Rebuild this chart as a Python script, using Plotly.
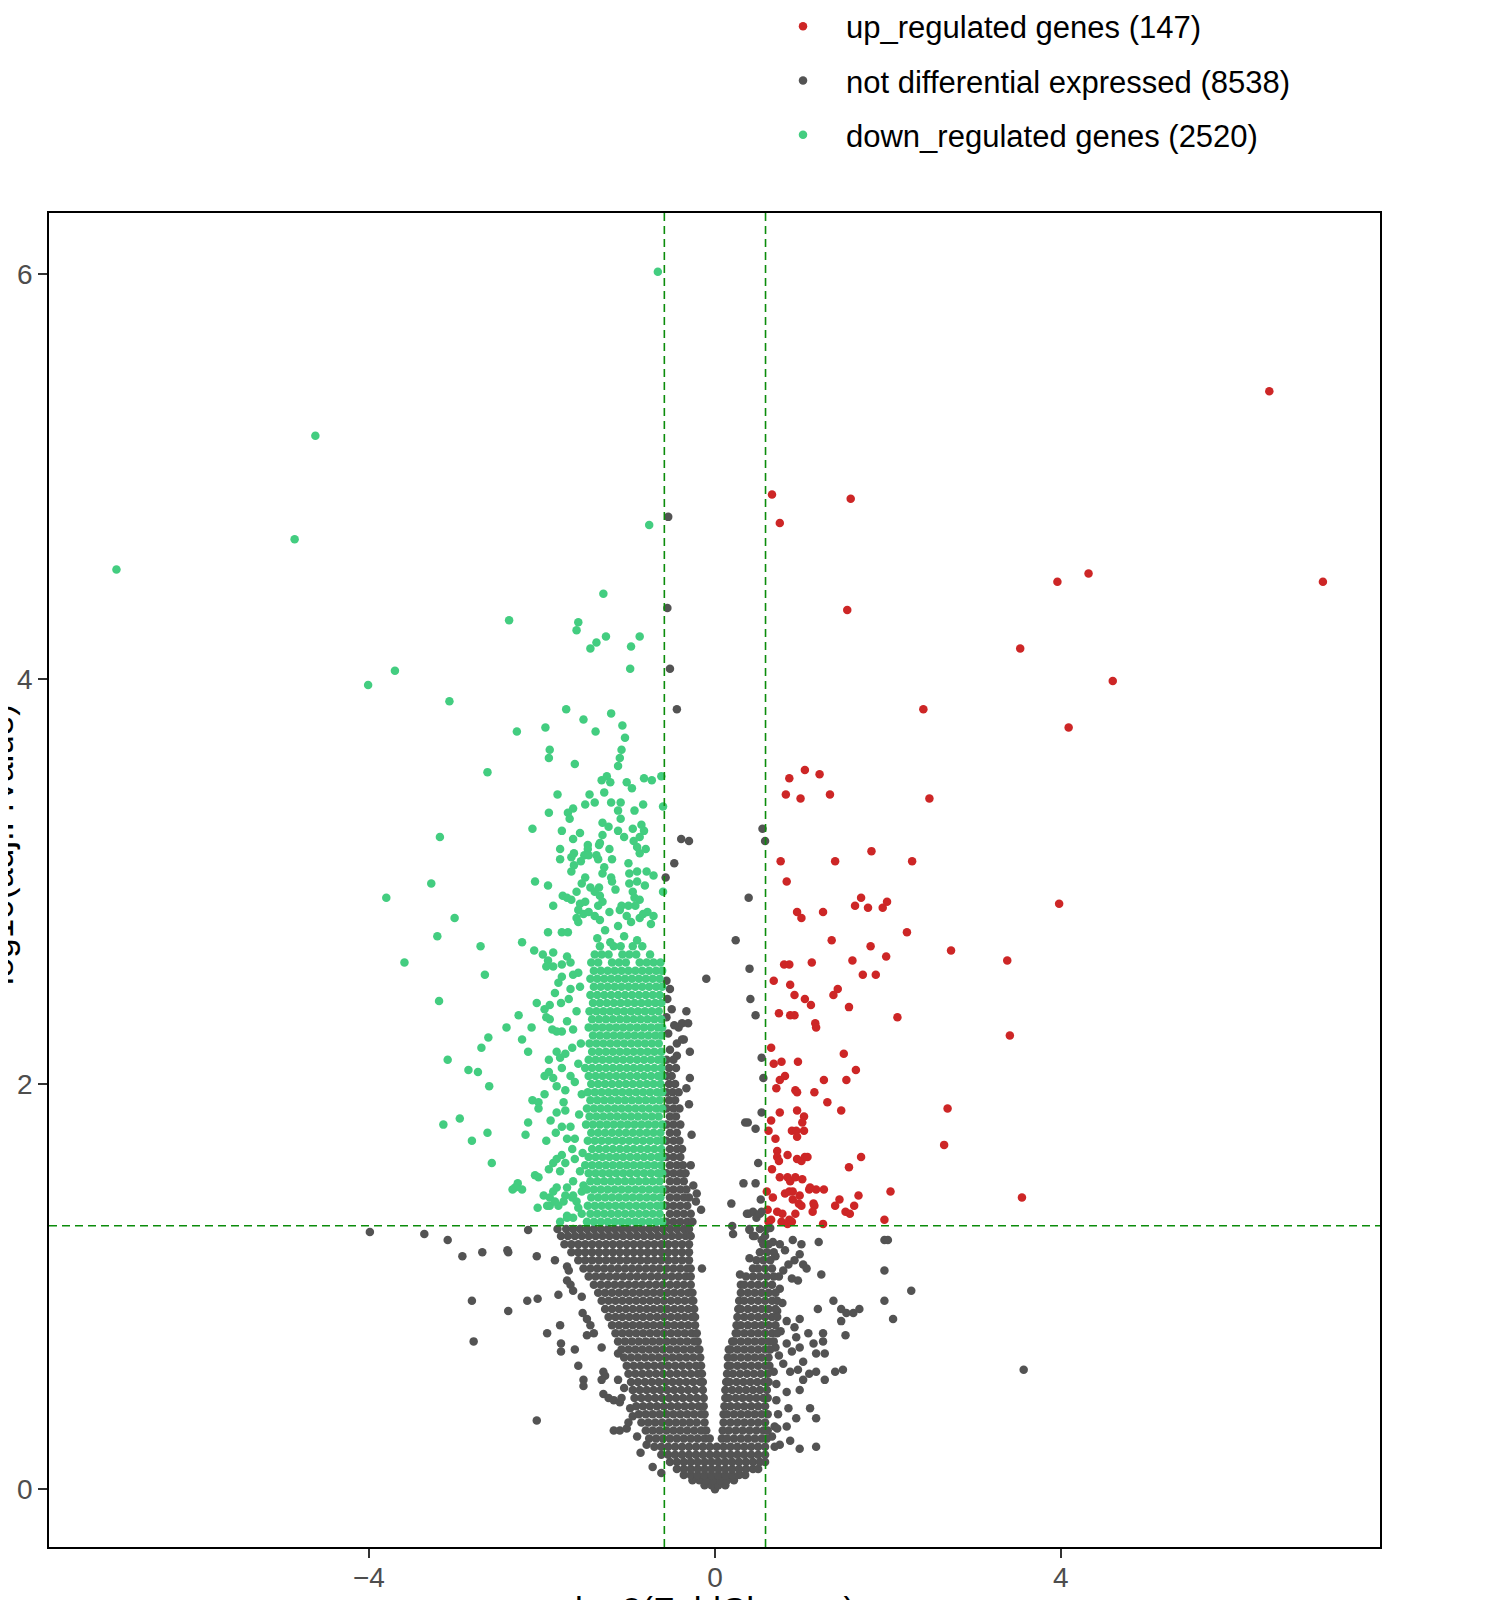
import plotly.graph_objects as go

# group sizes shown in the legend
up_count = 147
ns_count = 8538
down_count = 2520

fc_cut = 0.585    # log2(1.5)
p_cut = 1.301     # -log10(0.05)

# ---- up regulated (red), read point by point ----
up_points = [
    (6.41, 5.42), (7.03, 4.48), (4.32, 4.52), (3.96, 4.48), (4.60, 3.99), (3.53, 4.15),
    (4.09, 3.76), (2.41, 3.85), (3.98, 2.89), (3.38, 2.61), (3.41, 2.24), (3.55, 1.44),
    (0.66, 4.91), (0.75, 4.77), (1.57, 4.89), (1.53, 4.34),
    (1.04, 3.55), (0.86, 3.51), (1.21, 3.53), (0.82, 3.43), (0.99, 3.41), (1.33, 3.43),
    (2.48, 3.41), (1.81, 3.15), (0.76, 3.10), (1.39, 3.10), (2.28, 3.10), (0.83, 3.00),
    (1.69, 2.92), (1.62, 2.88), (1.77, 2.87), (1.94, 2.87), (1.99, 2.90), (0.95, 2.85),
    (1.00, 2.82), (1.25, 2.85), (2.22, 2.75), (1.35, 2.71), (1.80, 2.68), (2.73, 2.66),
    (1.98, 2.63), (1.59, 2.61), (0.80, 2.59), (0.86, 2.59), (1.12, 2.60), (1.71, 2.54),
    (1.86, 2.54), (0.68, 2.51), (0.87, 2.49), (1.42, 2.47), (1.37, 2.44), (0.92, 2.44),
    (1.04, 2.42), (1.11, 2.39), (1.55, 2.38), (0.74, 2.35), (0.87, 2.34), (0.92, 2.34),
    (1.16, 2.30), (1.17, 2.28), (2.11, 2.33),
    (0.65, 2.18), (0.77, 2.11), (0.68, 2.10), (0.96, 2.11), (1.49, 2.15), (1.63, 2.07),
    (0.81, 2.04), (0.75, 2.02), (0.71, 1.98), (0.93, 1.97), (0.95, 1.96), (1.15, 1.96),
    (1.26, 2.02), (1.52, 2.02), (1.30, 1.91), (1.46, 1.87), (0.75, 1.86), (0.95, 1.87),
    (1.03, 1.84), (1.01, 1.81), (1.03, 1.77), (0.65, 1.82), (0.62, 1.77), (0.89, 1.77),
    (0.94, 1.77), (0.70, 1.73), (0.95, 1.74), (0.72, 1.67), (0.72, 1.64), (0.74, 1.62),
    (0.84, 1.65), (0.95, 1.63), (1.00, 1.62), (1.04, 1.64), (1.07, 1.64), (1.69, 1.64),
    (1.55, 1.59), (0.66, 1.58), (0.75, 1.54), (0.84, 1.54), (0.87, 1.52), (0.93, 1.54),
    (1.01, 1.53), (0.60, 1.47), (0.67, 1.44), (0.81, 1.46), (0.86, 1.47), (0.90, 1.47),
    (0.98, 1.45), (1.09, 1.48), (1.17, 1.48), (1.26, 1.48), (1.66, 1.45), (2.03, 1.47),
    (2.69, 1.88), (2.65, 1.70), (0.61, 1.38), (0.72, 1.37), (0.78, 1.36), (0.90, 1.43),
    (0.97, 1.41), (1.00, 1.40), (1.14, 1.41), (1.15, 1.40), (1.13, 1.37), (1.39, 1.40),
    (1.44, 1.43), (1.51, 1.37), (1.56, 1.36), (1.61, 1.40), (0.93, 1.36), (0.86, 1.33),
    (0.65, 1.33), (1.96, 1.33), (0.62, 1.32), (0.77, 1.32), (0.84, 1.31), (0.89, 1.32),
    (1.25, 1.31), (1.10, 1.49),
]

# ---- down regulated (green), scattered points ----
down_points = [
    (-4.62, 5.20), (-4.86, 4.69), (-6.92, 4.54), (-2.38, 4.29), (-3.70, 4.04), (-4.01, 3.97),
    (-3.07, 3.89), (-1.96, 3.76), (-2.29, 3.74), (-1.91, 3.65), (-1.92, 3.61), (-2.63, 3.54),
    (-1.82, 3.43), (-0.66, 6.01), (-0.76, 4.76),
    (-1.29, 4.42), (-1.58, 4.28), (-1.60, 4.24), (-1.26, 4.21), (-1.37, 4.18), (-1.44, 4.15),
    (-0.87, 4.21), (-0.97, 4.16), (-0.98, 4.05), (-1.72, 3.85), (-1.52, 3.80), (-1.20, 3.83),
    (-1.38, 3.74), (-1.07, 3.77), (-1.04, 3.71), (-1.08, 3.65), (-1.10, 3.61), (-1.12, 3.57),
    (-1.62, 3.58), (-1.31, 3.50), (-1.25, 3.52), (-1.21, 3.49), (-1.02, 3.49), (-0.96, 3.46),
    (-0.82, 3.51), (-0.73, 3.50), (-0.62, 3.52), (-1.45, 3.43), (-1.28, 3.44), (-1.50, 3.38),
    (-1.39, 3.39), (-1.20, 3.39), (-1.09, 3.39), (-1.64, 3.36), (-1.70, 3.34), (-1.68, 3.31),
    (-1.92, 3.34), (-1.12, 3.35), (-1.09, 3.31), (-0.93, 3.35), (-0.83, 3.38), (-0.60, 3.37),
    (-2.11, 3.26), (-1.77, 3.25), (-1.30, 3.29), (-1.23, 3.27), (-1.12, 3.25), (-1.05, 3.22),
    (-0.95, 3.26), (-0.85, 3.28), (-0.82, 3.25), (-0.87, 3.22), (-1.64, 3.21), (-1.56, 3.24),
    (-1.30, 3.23), (-1.47, 3.18), (-1.47, 3.16), (-1.34, 3.18), (-1.33, 3.19),
    (-1.79, 3.16), (-1.79, 3.11), (-1.63, 3.14), (-1.66, 3.12), (-1.51, 3.13), (-1.46, 3.13),
    (-1.37, 3.13), (-1.22, 3.16), (-1.19, 3.11), (-0.94, 3.20), (-0.90, 3.17), (-0.87, 3.14),
    (-0.80, 3.16), (-1.55, 3.10), (-1.63, 3.08), (-1.66, 3.05), (-1.35, 3.11), (-1.28, 3.07),
    (-1.30, 3.04), (-1.00, 3.09), (-0.99, 3.04), (-0.90, 3.05), (-0.79, 3.05), (-0.71, 3.03),
    (-2.08, 3.00), (-1.93, 2.98), (-1.50, 3.02), (-1.54, 2.99), (-1.20, 3.02), (-1.19, 3.00),
    (-1.44, 2.97), (-1.34, 2.97), (-1.39, 2.95), (-0.99, 2.99), (-0.90, 3.00), (-0.81, 2.98),
    (-0.60, 2.95), (-1.15, 2.96), (-1.60, 2.95), (-1.76, 2.93), (-1.66, 2.91), (-1.71, 2.92),
    (-1.87, 2.88), (-1.56, 2.89), (-1.58, 2.86), (-1.50, 2.90), (-1.33, 2.93), (-1.30, 2.90),
    (-1.35, 2.88), (-0.95, 2.95), (-0.93, 2.92), (-0.87, 2.91), (-0.92, 2.88), (-1.08, 2.88),
    (-1.00, 2.88), (-0.78, 2.85), (-0.71, 2.83), (-0.74, 2.79), (-1.22, 2.85), (-1.10, 2.86),
    (-1.60, 2.82), (-1.58, 2.80), (-1.52, 2.84), (-1.46, 2.85), (-1.39, 2.83), (-1.33, 2.81),
    (-1.02, 2.83), (-0.97, 2.80), (-0.87, 2.82), (-0.83, 2.84), (-1.93, 2.75), (-2.23, 2.70),
    (-2.09, 2.66), (-1.77, 2.75), (-1.70, 2.75), (-1.99, 2.64), (-1.87, 2.65), (-1.93, 2.61),
    (-3.18, 3.22), (-3.28, 2.99), (-3.80, 2.92), (-3.01, 2.82), (-3.21, 2.73), (-2.71, 2.68),
    (-3.59, 2.60), (-2.66, 2.54), (-3.19, 2.41), (-1.95, 2.58), (-1.87, 2.58), (-1.81, 2.50),
    (-1.85, 2.45), (-2.06, 2.40), (-1.97, 2.37), (-1.91, 2.39), (-1.95, 2.33), (-1.91, 2.32),
    (-2.27, 2.34), (-2.12, 2.28), (-2.41, 2.28), (-2.62, 2.23), (-2.70, 2.18), (-2.23, 2.22),
    (-2.16, 2.16), (-1.88, 2.27), (-1.83, 2.26), (-3.09, 2.12), (-2.85, 2.07), (-2.74, 2.06),
    (-2.61, 1.99), (-1.92, 2.12), (-1.83, 2.16), (-1.97, 2.04), (-1.92, 2.06), (-1.87, 2.03),
    (-1.83, 1.99), (-2.11, 1.92), (-2.04, 1.91), (-2.04, 1.88), (-1.97, 1.95), (-1.83, 1.86),
    (-1.90, 1.82), (-1.84, 1.76), (-3.14, 1.80), (-2.95, 1.83), (-2.81, 1.72), (-2.63, 1.76),
    (-2.58, 1.61), (-2.16, 1.81), (-2.19, 1.75), (-1.95, 1.72), (-2.08, 1.55), (-2.04, 1.54),
    (-1.92, 1.58), (-1.87, 1.61), (-1.83, 1.63), (-2.34, 1.48), (-2.28, 1.51), (-2.23, 1.48),
    (-2.05, 1.39), (-1.98, 1.45), (-1.91, 1.44), (-1.87, 1.47), (-1.91, 1.40), (-1.81, 1.40),
    (-2.31, 1.49), (-1.94, 1.40), (-1.85, 1.42), (-1.83, 1.49), (-1.73, 1.45), (-1.64, 1.45),
    (-1.54, 1.47), (-1.71, 1.35), (-1.64, 1.34), (-1.54, 1.36), (-1.79, 1.32),
    (-1.78, 2.40), (-1.69, 2.42), (-1.67, 2.47), (-1.77, 2.59), (-1.67, 2.60), (-1.71, 2.63),
    (-1.77, 2.53), (-1.64, 2.54), (-1.58, 2.55), (-1.77, 2.26), (-1.71, 2.31), (-1.64, 2.27),
    (-1.79, 2.13), (-1.73, 2.15), (-1.65, 2.18), (-1.77, 2.08), (-1.73, 1.97), (-1.67, 2.04),
    (-1.62, 2.01), (-1.75, 1.91), (-1.73, 1.87), (-1.67, 1.79), (-1.62, 1.73), (-1.71, 1.73),
    (-1.77, 1.79), (-1.77, 1.65), (-1.79, 1.57), (-1.73, 1.61), (-1.65, 1.68), (-1.62, 1.63),
    (-1.71, 1.49), (-1.64, 1.52), (-1.75, 1.42), (-1.65, 1.44), (-1.71, 1.34), (-1.58, 1.39),
    (-1.56, 2.48), (-1.60, 2.36), (-1.55, 2.20), (-1.58, 2.10), (-1.54, 1.95), (-1.57, 1.85),
    (-1.53, 1.66), (-1.56, 1.57), (-1.52, 1.50), (-1.60, 1.42),
    (-1.36, 2.72), (-1.21, 2.70), (-1.05, 2.73), (-0.90, 2.71), (-1.27, 2.76), (-1.12, 2.78),
]

# ---- down regulated, the solid block (one list of x per row) ----
down_band_y = [1.32, 1.36, 1.40, 1.44, 1.48, 1.52, 1.56, 1.60, 1.64, 1.68, 1.72, 1.76,
               1.80, 1.84, 1.88, 1.92, 1.96, 2.00, 2.04, 2.08, 2.12, 2.16, 2.20, 2.24,
               2.28, 2.32, 2.36, 2.40, 2.44, 2.48, 2.52, 2.56, 2.60, 2.64, 2.68]
down_band_x = [
    [-1.48, -1.40, -1.32, -1.24, -1.16, -1.08, -1.00, -0.92, -0.84, -0.76, -0.68, -0.61],
    [-1.44, -1.36, -1.28, -1.20, -1.12, -1.04, -0.96, -0.88, -0.80, -0.72, -0.64],
    [-1.47, -1.39, -1.31, -1.23, -1.15, -1.07, -0.99, -0.91, -0.83, -0.75, -0.67, -0.61],
    [-1.43, -1.35, -1.27, -1.19, -1.11, -1.03, -0.95, -0.87, -0.79, -0.71, -0.63],
    [-1.48, -1.40, -1.32, -1.24, -1.16, -1.08, -1.00, -0.92, -0.84, -0.76, -0.68, -0.61],
    [-1.44, -1.36, -1.28, -1.20, -1.12, -1.04, -0.96, -0.88, -0.80, -0.72, -0.64],
    [-1.46, -1.38, -1.30, -1.22, -1.14, -1.06, -0.98, -0.90, -0.82, -0.74, -0.66, -0.61],
    [-1.50, -1.42, -1.34, -1.26, -1.18, -1.10, -1.02, -0.94, -0.86, -0.78, -0.70, -0.62],
    [-1.46, -1.38, -1.30, -1.22, -1.14, -1.06, -0.98, -0.90, -0.82, -0.74, -0.66, -0.61],
    [-1.42, -1.34, -1.26, -1.18, -1.10, -1.02, -0.94, -0.86, -0.78, -0.70, -0.62],
    [-1.47, -1.39, -1.31, -1.23, -1.15, -1.07, -0.99, -0.91, -0.83, -0.75, -0.67, -0.61],
    [-1.43, -1.35, -1.27, -1.19, -1.11, -1.03, -0.95, -0.87, -0.79, -0.71, -0.63],
    [-1.49, -1.41, -1.33, -1.25, -1.17, -1.09, -1.01, -0.93, -0.85, -0.77, -0.69, -0.61],
    [-1.45, -1.37, -1.29, -1.21, -1.13, -1.05, -0.97, -0.89, -0.81, -0.73, -0.65],
    [-1.48, -1.40, -1.32, -1.24, -1.16, -1.08, -1.00, -0.92, -0.84, -0.76, -0.68, -0.61],
    [-1.44, -1.36, -1.28, -1.20, -1.12, -1.04, -0.96, -0.88, -0.80, -0.72, -0.64],
    [-1.47, -1.39, -1.31, -1.23, -1.15, -1.07, -0.99, -0.91, -0.83, -0.75, -0.67, -0.61],
    [-1.43, -1.35, -1.27, -1.19, -1.11, -1.03, -0.95, -0.87, -0.79, -0.71, -0.63],
    [-1.46, -1.38, -1.30, -1.22, -1.14, -1.06, -0.98, -0.90, -0.82, -0.74, -0.66, -0.61],
    [-1.50, -1.42, -1.34, -1.26, -1.18, -1.10, -1.02, -0.94, -0.86, -0.78, -0.70, -0.62],
    [-1.46, -1.38, -1.30, -1.22, -1.14, -1.06, -0.98, -0.90, -0.82, -0.74, -0.66, -0.61],
    [-1.42, -1.34, -1.26, -1.18, -1.10, -1.02, -0.94, -0.86, -0.78, -0.70, -0.62],
    [-1.45, -1.37, -1.29, -1.21, -1.13, -1.05, -0.97, -0.89, -0.81, -0.73, -0.65],
    [-1.41, -1.33, -1.25, -1.17, -1.09, -1.01, -0.93, -0.85, -0.77, -0.69, -0.62],
    [-1.46, -1.38, -1.30, -1.22, -1.14, -1.06, -0.98, -0.90, -0.82, -0.74, -0.66, -0.61],
    [-1.42, -1.34, -1.26, -1.18, -1.10, -1.02, -0.94, -0.86, -0.78, -0.70, -0.62],
    [-1.45, -1.37, -1.29, -1.21, -1.13, -1.05, -0.97, -0.89, -0.81, -0.73, -0.65],
    [-1.41, -1.33, -1.25, -1.17, -1.09, -1.01, -0.93, -0.85, -0.77, -0.69, -0.62],
    [-1.44, -1.36, -1.28, -1.20, -1.12, -1.04, -0.96, -0.88, -0.80, -0.72, -0.64],
    [-1.40, -1.32, -1.24, -1.16, -1.08, -1.00, -0.92, -0.84, -0.76, -0.68, -0.61],
    [-1.44, -1.36, -1.28, -1.20, -1.12, -1.04, -0.96, -0.88, -0.80, -0.72, -0.64],
    [-1.40, -1.32, -1.24, -1.16, -1.08, -1.00, -0.92, -0.84, -0.76, -0.68, -0.61],
    [-1.43, -1.35, -1.19, -1.11, -1.03, -0.87, -0.79, -0.71, -0.63],
    [-1.39, -1.31, -1.23, -1.07, -0.99, -0.91, -0.75],
    [-1.33, -1.17, -1.09, -0.95, -0.84],
]

# ---- not differential (gray), scattered points ----
ns_points = [
    (-0.54, 4.80), (-0.55, 4.35), (-0.52, 4.05), (-0.44, 3.85), (-0.39, 3.21), (-0.30, 3.20),
    (-0.47, 3.09), (-0.57, 3.02), (0.24, 2.71), (0.55, 3.26), (0.58, 3.20), (0.39, 2.92),
    (-0.10, 2.52), (0.40, 2.57), (0.41, 2.42), (0.47, 2.34), (0.54, 2.13), (0.56, 2.03),
    (0.54, 1.86), (0.35, 1.81), (0.38, 1.81), (0.47, 1.78), (0.50, 1.61), (0.33, 1.51),
    (0.47, 1.51), (0.19, 1.41), (0.53, 1.43), (-0.16, 1.38), (0.39, 1.36), (0.44, 1.37),
    (0.54, 1.37),
    (-0.52, 2.17), (-0.44, 2.20), (-0.36, 2.22), (-0.54, 2.25), (-0.47, 2.29), (-0.56, 2.33),
    (-0.50, 2.37), (-0.55, 2.42), (-0.52, 2.47), (-0.56, 2.51), (-0.42, 2.28), (-0.33, 2.36),
    (-0.38, 2.22), (-0.29, 2.16), (-0.44, 2.14), (-0.29, 2.03), (-0.33, 1.98), (-0.27, 1.75),
    (-0.21, 1.46), (-0.38, 2.30), (-0.31, 2.30), (-0.30, 1.90), (-0.28, 1.60),
    (-0.25, 1.50), (-0.22, 1.42), (-0.15, 1.09),
    (-3.99, 1.27), (-3.36, 1.26), (-3.09, 1.23), (-2.92, 1.15), (-2.69, 1.17), (-2.40, 1.18),
    (-2.39, 1.17), (-2.16, 1.28), (-2.06, 1.15), (-1.85, 1.13), (-2.81, 0.93), (-2.39, 0.88),
    (-2.17, 0.93), (-2.05, 0.94), (-1.81, 0.96), (-2.79, 0.73), (-1.94, 0.77), (-1.79, 0.81),
    (-1.78, 0.72), (-1.78, 0.68), (-1.62, 0.69), (-1.58, 0.61), (-1.52, 0.54), (-1.52, 0.51),
    (-2.06, 0.34), (-1.71, 1.10), (-1.69, 1.08), (-1.71, 1.03), (-1.67, 1.01), (-1.64, 0.98),
    (-1.54, 0.95), (-1.53, 0.87), (-1.48, 0.84), (-1.44, 0.81), (-1.48, 0.76), (-1.40, 0.77),
    (-1.29, 0.58), (-1.27, 0.56), (-1.29, 0.47), (-1.23, 0.45), (-1.17, 0.44), (-1.10, 0.43),
    (-1.31, 0.54), (-1.12, 0.54), (-1.17, 0.29), (-1.10, 0.29), (-1.02, 0.30), (-1.00, 0.33),
    (-0.90, 0.26), (-0.79, 0.22), (-1.31, 0.70), (-1.12, 0.67), (-1.05, 0.50), (-1.08, 0.45),
    (-0.98, 0.40), (-0.95, 0.36), (-0.86, 0.18), (-0.72, 0.11), (-0.62, 0.08),
    (0.20, 1.30), (0.21, 1.26), (0.37, 1.36), (0.48, 1.34), (0.52, 1.36), (0.40, 1.28),
    (0.44, 1.25), (0.54, 1.23), (0.40, 1.14), (0.29, 1.06), (0.64, 1.29), (0.67, 1.22),
    (0.75, 1.21), (0.81, 1.18), (0.90, 1.23), (1.00, 1.21), (0.98, 1.16), (1.02, 1.11),
    (1.06, 1.09), (0.92, 1.13), (0.85, 1.11), (0.79, 1.08), (0.89, 1.04), (0.96, 1.03),
    (0.75, 0.99), (1.20, 1.22), (1.23, 1.06), (1.96, 1.23), (2.00, 1.23), (1.96, 1.08),
    (1.96, 0.93), (2.06, 0.84), (1.37, 0.93), (1.46, 0.89), (1.52, 0.87), (1.60, 0.87),
    (1.67, 0.89), (1.46, 0.83), (1.51, 0.76), (1.19, 0.89), (1.25, 0.77), (1.25, 0.73),
    (1.27, 0.67), (1.17, 0.67), (1.08, 0.77), (1.14, 0.72), (1.02, 0.63), (1.39, 0.58),
    (1.48, 0.59), (1.27, 0.54), (1.17, 0.58), (1.09, 0.57), (0.83, 0.72), (0.89, 0.68),
    (0.94, 0.75), (0.98, 0.70), (0.92, 0.80), (0.98, 0.84), (0.83, 0.83), (0.79, 0.62),
    (0.87, 0.58), (0.96, 0.59), (1.02, 0.54), (0.98, 0.49), (0.83, 0.48), (0.71, 0.52),
    (1.10, 0.40), (1.17, 0.35), (0.85, 0.40), (0.94, 0.35), (0.83, 0.31), (0.87, 0.24),
    (0.75, 0.22), (0.98, 0.20), (1.17, 0.21), (0.69, 0.21), (0.71, 0.44), (0.73, 0.37),
    (0.69, 0.31), (3.57, 0.59), (2.27, 0.98), (0.70, 1.15), (0.74, 1.05), (0.78, 0.92),
    (0.72, 0.88), (0.76, 0.78), (0.70, 0.70), (0.74, 0.66), (0.68, 0.58), (0.72, 0.30),
    (0.66, 0.26),
]

# ---- not differential, the dense V (one list of x per row) ----
ns_band_y = [0.00, 0.02, 0.045, 0.07, 0.10, 0.135, 0.17, 0.21, 0.25, 0.29, 0.33, 0.37,
             0.41, 0.45, 0.49, 0.53, 0.57, 0.61, 0.65, 0.69, 0.73, 0.77, 0.81, 0.85,
             0.89, 0.93, 0.97, 1.01, 1.05, 1.09, 1.13, 1.17, 1.21, 1.25, 1.285,
             1.32, 1.36, 1.40, 1.44, 1.48, 1.52, 1.56, 1.60, 1.64, 1.68, 1.72, 1.76,
             1.80, 1.84, 1.88, 1.92, 1.96, 2.00, 2.04, 2.08, 2.12]
ns_band_x = [
    [0.00],
    [-0.12, -0.04, 0.04, 0.12],
    [-0.26, -0.18, -0.10, -0.02, 0.06, 0.14, 0.22],
    [-0.36, -0.28, -0.20, -0.12, -0.04, 0.04, 0.12, 0.20, 0.28, 0.35],
    [-0.44, -0.36, -0.28, -0.20, -0.12, -0.04, 0.04, 0.12, 0.20, 0.28, 0.36, 0.44, 0.50],
    [-0.52, -0.44, -0.36, -0.28, -0.20, -0.12, -0.04, 0.04, 0.12, 0.20, 0.28, 0.36, 0.44,
     0.52, 0.58],
    [-0.62, -0.54, -0.46, -0.38, -0.30, -0.22, -0.14, -0.06, 0.02, 0.10, 0.18, 0.26, 0.34,
     0.42, 0.50, 0.58],
    [-0.70, -0.62, -0.54, -0.46, -0.38, -0.30, -0.22, -0.14, -0.06, 0.02, 0.10, 0.18, 0.26,
     0.34, 0.42, 0.50, 0.58],
    [-0.76, -0.68, -0.60, -0.52, -0.44, -0.36, -0.28, -0.20, -0.12, -0.06, 0.08, 0.14, 0.22,
     0.30, 0.38, 0.46, 0.54, 0.60],
    [-0.80, -0.72, -0.64, -0.56, -0.48, -0.40, -0.32, -0.24, -0.16, -0.10, 0.09, 0.16, 0.24,
     0.32, 0.40, 0.48, 0.56, 0.61],
    [-0.85, -0.77, -0.69, -0.61, -0.53, -0.45, -0.37, -0.29, -0.21, -0.12, 0.10, 0.18, 0.26,
     0.34, 0.42, 0.50, 0.58],
    [-0.88, -0.80, -0.72, -0.64, -0.56, -0.48, -0.40, -0.32, -0.24, -0.16, -0.12, 0.10, 0.14,
     0.22, 0.30, 0.38, 0.46, 0.54, 0.61],
    [-0.91, -0.83, -0.75, -0.67, -0.59, -0.51, -0.43, -0.35, -0.27, -0.19, -0.13, 0.11, 0.18,
     0.26, 0.34, 0.42, 0.50, 0.58],
    [-0.93, -0.85, -0.77, -0.69, -0.61, -0.53, -0.45, -0.37, -0.29, -0.21, -0.13, 0.12, 0.16,
     0.24, 0.32, 0.40, 0.48, 0.56, 0.61],
    [-0.95, -0.87, -0.79, -0.71, -0.63, -0.55, -0.47, -0.39, -0.31, -0.23, -0.14, 0.12, 0.20,
     0.28, 0.36, 0.44, 0.52, 0.60],
    [-0.97, -0.89, -0.81, -0.73, -0.65, -0.57, -0.49, -0.41, -0.33, -0.25, -0.17, -0.14, 0.13,
     0.17, 0.25, 0.33, 0.41, 0.49, 0.57, 0.62],
    [-1.00, -0.92, -0.84, -0.76, -0.68, -0.60, -0.52, -0.44, -0.36, -0.28, -0.20, -0.15, 0.14,
     0.21, 0.29, 0.37, 0.45, 0.53, 0.61],
    [-1.02, -0.94, -0.86, -0.78, -0.70, -0.62, -0.54, -0.46, -0.38, -0.30, -0.22, -0.16, 0.15,
     0.18, 0.26, 0.34, 0.42, 0.50, 0.58, 0.63],
    [-1.05, -0.97, -0.89, -0.81, -0.73, -0.65, -0.57, -0.49, -0.41, -0.33, -0.25, -0.17, 0.15,
     0.22, 0.30, 0.38, 0.46, 0.54, 0.62],
    [-1.08, -1.00, -0.92, -0.84, -0.76, -0.68, -0.60, -0.52, -0.44, -0.36, -0.28, -0.20, -0.18,
     0.16, 0.18, 0.26, 0.34, 0.42, 0.50, 0.58, 0.64],
    [-1.12, -1.04, -0.96, -0.88, -0.80, -0.72, -0.64, -0.56, -0.48, -0.40, -0.32, -0.24, -0.20,
     0.20, 0.22, 0.30, 0.38, 0.46, 0.54, 0.62, 0.68],
    [-1.15, -1.07, -0.99, -0.91, -0.83, -0.75, -0.67, -0.59, -0.51, -0.43, -0.35, -0.27, -0.21,
     0.24, 0.26, 0.34, 0.42, 0.50, 0.58, 0.66, 0.72],
    [-1.19, -1.11, -1.03, -0.95, -0.87, -0.79, -0.71, -0.63, -0.55, -0.47, -0.39, -0.31, -0.23,
     0.25, 0.30, 0.38, 0.46, 0.54, 0.62, 0.70],
    [-1.23, -1.15, -1.07, -0.99, -0.91, -0.83, -0.75, -0.67, -0.59, -0.51, -0.43, -0.35, -0.27,
     -0.23, 0.26, 0.34, 0.42, 0.50, 0.58, 0.66, 0.72],
    [-1.27, -1.19, -1.11, -1.03, -0.95, -0.87, -0.79, -0.71, -0.63, -0.55, -0.47, -0.39, -0.31,
     -0.24, 0.27, 0.30, 0.38, 0.46, 0.54, 0.62, 0.70],
    [-1.31, -1.23, -1.15, -1.07, -0.99, -0.91, -0.83, -0.75, -0.67, -0.59, -0.51, -0.43, -0.35,
     -0.27, -0.25, 0.28, 0.34, 0.42, 0.50, 0.58, 0.66, 0.72],
    [-1.35, -1.27, -1.19, -1.11, -1.03, -0.95, -0.87, -0.79, -0.71, -0.63, -0.55, -0.47, -0.39,
     -0.31, -0.26, 0.30, 0.38, 0.46, 0.54, 0.62, 0.70],
    [-1.40, -1.32, -1.24, -1.16, -1.08, -1.00, -0.92, -0.84, -0.76, -0.68, -0.60, -0.52, -0.44,
     -0.36, -0.28, 0.30, 0.34, 0.42, 0.50, 0.58, 0.66],
    [-1.46, -1.38, -1.30, -1.22, -1.14, -1.06, -0.98, -0.90, -0.82, -0.74, -0.66, -0.58, -0.50,
     -0.42, -0.34, -0.28, 0.36, 0.44, 0.52, 0.60, 0.68],
    [-1.52, -1.44, -1.36, -1.28, -1.20, -1.12, -1.04, -0.96, -0.88, -0.80, -0.72, -0.64, -0.56,
     -0.48, -0.40, -0.32, -0.28, 0.44, 0.50, 0.58, 0.66],
    [-1.58, -1.50, -1.42, -1.34, -1.26, -1.18, -1.10, -1.02, -0.94, -0.86, -0.78, -0.70, -0.62,
     -0.54, -0.46, -0.38, -0.30, 0.48, 0.56, 0.64],
    [-1.66, -1.58, -1.50, -1.42, -1.34, -1.26, -1.18, -1.10, -1.02, -0.94, -0.86, -0.78, -0.70,
     -0.62, -0.54, -0.46, -0.38, -0.30, 0.52, 0.60, 0.68],
    [-1.74, -1.66, -1.58, -1.50, -1.42, -1.34, -1.26, -1.18, -1.10, -1.02, -0.94, -0.86, -0.78,
     -0.70, -0.62, -0.54, -0.46, -0.38, -0.30, 0.56, 0.62],
    [-1.78, -1.70, -1.62, -1.54, -1.46, -1.38, -1.30, -1.22, -1.14, -1.06, -0.98, -0.90, -0.82,
     -0.74, -0.66, -0.58, -0.50, -0.42, -0.34, -0.28, 0.46, 0.58],
    [-1.82, -1.72, -1.64, -1.56, -1.48, -1.40, -1.32, -1.24, -1.16, -1.08, -1.00, -0.92, -0.84,
     -0.76, -0.68, -0.60, -0.52, -0.44, -0.36, -0.30, 0.40, 0.52, 0.60],
    [-0.56, -0.48, -0.40, -0.32, -0.26],
    [-0.52, -0.44, -0.36, -0.28],
    [-0.56, -0.48, -0.40, -0.32],
    [-0.52, -0.44, -0.36, -0.30],
    [-0.56, -0.48, -0.40, -0.33],
    [-0.52, -0.44, -0.36],
    [-0.56, -0.48, -0.40, -0.34],
    [-0.52, -0.44, -0.37],
    [-0.56, -0.48, -0.40],
    [-0.52, -0.44, -0.38],
    [-0.56, -0.48, -0.41],
    [-0.52, -0.44],
    [-0.56, -0.48, -0.40],
    [-0.52, -0.45],
    [-0.56, -0.48, -0.41],
    [-0.53, -0.46],
    [-0.56, -0.49, -0.42],
    [-0.53, -0.46],
    [-0.56, -0.50],
    [-0.53, -0.45],
    [-0.56, -0.48],
]

x_ticks = [-4, 0, 4]
y_ticks = [0, 2, 4, 6]
x_title = "log2(FoldChange)"
y_title = "-log10(adj.P.Value)"

UP_COL = "#CD2626"
NS_COL = "#535353"
DOWN_COL = "#43CD80"
LINE_COL = "#0B8C0B"
FONT = "Liberation Sans, Arial, Helvetica, sans-serif"


def unpack(points, band_y=None, band_x=None):
    xs = [p[0] for p in points]
    ys = [p[1] for p in points]
    if band_y is not None:
        for y, row in zip(band_y, band_x):
            xs.extend(row)
            ys.extend([y] * len(row))
    return xs, ys


up_x, up_y = unpack(up_points)
ns_x, ns_y = unpack(ns_points, ns_band_y, ns_band_x)
down_x, down_y = unpack(down_points, down_band_y, down_band_x)

fig = go.Figure()
groups = [
    (f"up_regulated genes ({up_count})", up_x, up_y, UP_COL),
    (f"not differential expressed ({ns_count})", ns_x, ns_y, NS_COL),
    (f"down_regulated genes ({down_count})", down_x, down_y, DOWN_COL),
]
for name, xs, ys, col in groups:
    fig.add_trace(go.Scatter(
        x=xs, y=ys, mode="markers", name=name, legendgroup=name,
        marker=dict(color=col, size=8.5, line=dict(width=0)),
        hoverinfo="skip",
    ))

# threshold lines
dash = dict(color=LINE_COL, width=1.6, dash="8px,5px")
for xv in (-fc_cut, fc_cut):
    fig.add_shape(type="line", xref="x", yref="paper", x0=xv, x1=xv, y0=0, y1=1, line=dash)
fig.add_shape(type="line", xref="paper", yref="y", x0=0, x1=1, y0=p_cut, y1=p_cut, line=dash)

axis_common = dict(
    showgrid=False, zeroline=False, showline=True, linecolor="black", linewidth=1.5,
    mirror=True, ticks="outside", ticklen=9, tickwidth=2, tickcolor="#333333",
    tickfont=dict(size=28, color="#4D4D4D", family=FONT), automargin=False,
)
fig.update_xaxes(range=[-7.70, 7.69], tickvals=x_ticks, ticklabelstandoff=-4, **axis_common)
fig.update_yaxes(range=[-0.285, 6.30], tickvals=y_ticks, **axis_common)

# axis titles sit partly outside the canvas, as in the original export
title_font = dict(size=35, family=FONT, color="black")
fig.add_annotation(text=x_title, xref="x", yref="paper", x=0, y=0,
                   xanchor="center", yanchor="top", yshift=-41,
                   showarrow=False, font=title_font)
fig.add_annotation(text=y_title, xref="paper", yref="paper", x=0, y=0.522,
                   xanchor="center", yanchor="middle", xshift=-48, textangle=-90,
                   showarrow=False, font=title_font)

fig.update_layout(
    width=1504, height=1600,
    margin=dict(l=41, r=132, t=205, b=61, autoexpand=False),
    plot_bgcolor="white", paper_bgcolor="white",
    font=dict(family=FONT, color="black"),
    legend=dict(
        xref="container", yref="paper", x=0.500, y=1.160, xanchor="left", yanchor="top",
        font=dict(size=31, family=FONT, color="black"),
        itemwidth=76, tracegroupgap=11, bgcolor="rgba(0,0,0,0)",
    ),
)

fig.write_html("out.html")
